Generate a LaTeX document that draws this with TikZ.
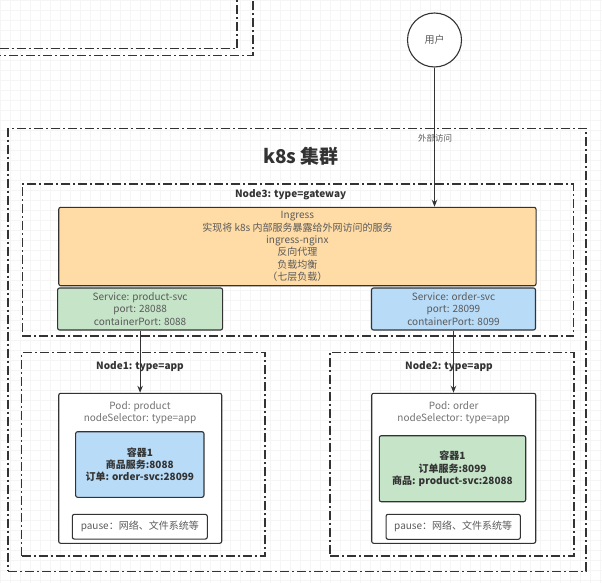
\documentclass[tikz,border=0pt]{standalone}
\usepackage{fontspec}
\setmainfont{Noto Sans CJK SC}
\usepackage{xcolor}
\usetikzlibrary{arrows.meta}
\definecolor{lineGray}{HTML}{333333}
\definecolor{textGray}{HTML}{5A5A5A}
\definecolor{ingressFill}{HTML}{FFDCA6}
\definecolor{svcGreen}{HTML}{C5E4C8}
\definecolor{svcBlue}{HTML}{B8DBF7}

\begin{document}
\begin{tikzpicture}[x=1pt, y=-1pt, >={Stealth[length=7pt,width=5.5pt]},
    zone/.style={draw=lineGray, line width=1.1pt, dash pattern=on 9pt off 3pt on 2pt off 3pt, inner sep=0pt},
    box/.style={draw=lineGray, line width=1.1pt, rounded corners=2pt, inner sep=0pt},
    txt/.style={font=\fontsize{10}{12.3}\selectfont, text=textGray, align=center},
    lbl/.style={font=\fontsize{10}{12.3}\selectfont\bfseries, text=lineGray, align=center}]
    \clip (0,0) rectangle (602,583);
    \fill[white] (0,0) rectangle (602,583);
    \draw[black!4, step=10pt] (0,583) grid (602,0);

    \draw[zone] (-10,-10) rectangle (237,48.3);
    \draw[zone] (-10,-10) rectangle (253,55.7);

    \node[draw=lineGray, line width=1.1pt, circle, minimum size=54pt, fill=white, txt] (user) at (434.5,40) {用户};

    \node[zone, minimum width=578pt, minimum height=442.7pt] (cluster) at (297,349.7) {};
    \node[font=\fontsize{19}{22}\selectfont\bfseries, text=lineGray] (clusterTitle) at (301,156) {k8s 集群};

    \node[zone, minimum width=551.5pt, minimum height=152pt] (node3) at (297.8,260) {};
    \node[lbl] (node3Label) at (290.6,195) {Node3: type=gateway};

    \node[box, fill=ingressFill, minimum width=477.3pt, minimum height=78.4pt, txt] (ingress) at (297.4,246.5)
        {Ingress\\实现将 k8s 内部服务暴露给外网访问的服务\\ingress-nginx\\反向代理\\负载均衡\\（七层负载）};
    \node[box, fill=svcGreen, minimum width=165pt, minimum height=42pt, txt] (svcProduct) at (140.1,309)
        {Service: product-svc\\port: 28088\\containerPort: 8088};
    \node[box, fill=svcBlue, minimum width=164pt, minimum height=42pt, txt] (svcOrder) at (453.5,309)
        {Service: order-svc\\port: 28099\\containerPort: 8099};

    \node[zone, minimum width=243.3pt, minimum height=203.3pt] (node1) at (143.3,454.3) {};
    \node[lbl] (node1Label) at (140,366.7) {Node1: type=app};
    \node[zone, minimum width=244pt, minimum height=203.3pt] (node2) at (452,454.3) {};
    \node[lbl] (node2Label) at (449,367) {Node2: type=app};

    \node[box, fill=white, minimum width=163pt, minimum height=150pt] (podProduct) at (140.2,468.3) {};
    \node[txt, text=black!55] (podProductLabel) at (140,412.5) {Pod: product\\nodeSelector: type=app};
    \node[box, fill=svcBlue, minimum width=128.3pt, minimum height=65.6pt, lbl] (ctrProduct) at (139.8,464.5)
        {容器1\\商品服务:8088\\订单: order-svc:28099};
    \node[box, minimum width=135pt, minimum height=24.7pt, txt] (pauseProduct) at (139.8,526.7) {pause：网络、文件系统等};

    \node[box, fill=white, minimum width=164pt, minimum height=150pt] (podOrder) at (453.7,468.3) {};
    \node[txt, text=black!55] (podOrderLabel) at (453.7,412.5) {Pod: order\\nodeSelector: type=app};
    \node[box, fill=svcGreen, minimum width=146.4pt, minimum height=66pt, lbl] (ctrOrder) at (452.5,468.7)
        {容器1\\订单服务:8099\\商品: product-svc:28088};
    \node[box, minimum width=134.3pt, minimum height=25pt, txt] (pauseOrder) at (453.2,526.8) {pause：网络、文件系统等};

    \draw[->, line width=1.1pt, lineGray] (user.south) -- (user.south |- ingress.north);
    \node[txt, font=\fontsize{8.5}{10}\selectfont] (accessLabel) at (435,138) {外部访问};
    \draw[->, line width=1.1pt, lineGray] (svcProduct.south) -- (svcProduct.south |- podProduct.north);
    \draw[->, line width=1.1pt, lineGray] (svcOrder.south) -- (svcOrder.south |- podOrder.north);
\end{tikzpicture}
\end{document}
